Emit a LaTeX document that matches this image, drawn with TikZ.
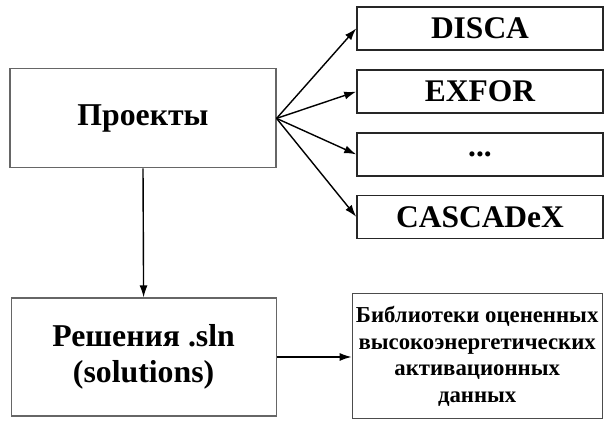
\documentclass[tikz,border=0pt]{standalone}
\usepackage{fontspec}
\setmainfont{Liberation Serif}
\usetikzlibrary{arrows.meta}

\begin{document}
\begin{tikzpicture}[
        box/.style={draw=black!60,line width=0.8pt,fill=white,font=\bfseries},
        item/.style={draw=black!85,line width=1.1pt,minimum width=6.15cm,minimum height=1.075cm,
            font=\fontsize{22.4}{24}\selectfont\bfseries},
        link/.style={-{Latex[length=3mm,width=2mm]},line width=1pt}
    ]
        \useasboundingbox (0,0) rectangle (15.1,10.6);

        \node[box,minimum width=6.65cm,minimum height=2.475cm,font=\fontsize{22.6}{24}\selectfont\bfseries]
            (proj) at (3.575,7.64) {Проекты};
        \node[item] (disca) at (12.0,9.89) {DISCA};
        \node[item] (exfor) at (12.0,8.31) {EXFOR};
        \node[item] (dots) at (12.0,6.74) {...};
        \node[item] (cascadex) at (12.0,5.18) {CASCADeX};

        \node[box,minimum width=6.625cm,minimum height=2.95cm,align=center,
            font=\fontsize{22.6}{26}\selectfont\bfseries] (sol) at (3.59,1.675) {Решения .sln\\(solutions)};
        \node[box,draw=black!70,minimum width=6.25cm,minimum height=3.125cm,align=center,inner xsep=1pt,
            font=\fontsize{16.2}{19}\selectfont\bfseries] (lib) at (11.93,1.69)
            {Библиотеки оцененных\\высокоэнергетических\\активационных\\данных};

        \draw[link] (proj.east) -- (disca.west);
        \draw[link] (proj.east) -- (exfor.west);
        \draw[link] (proj.east) -- (dots.west);
        \draw[link] (proj.east) -- (cascadex.west);
        \draw[link] (proj.south) -- (sol.north);
        \draw[link] (sol.east) -- (sol.east -| lib.west);
    \end{tikzpicture}
\end{document}
